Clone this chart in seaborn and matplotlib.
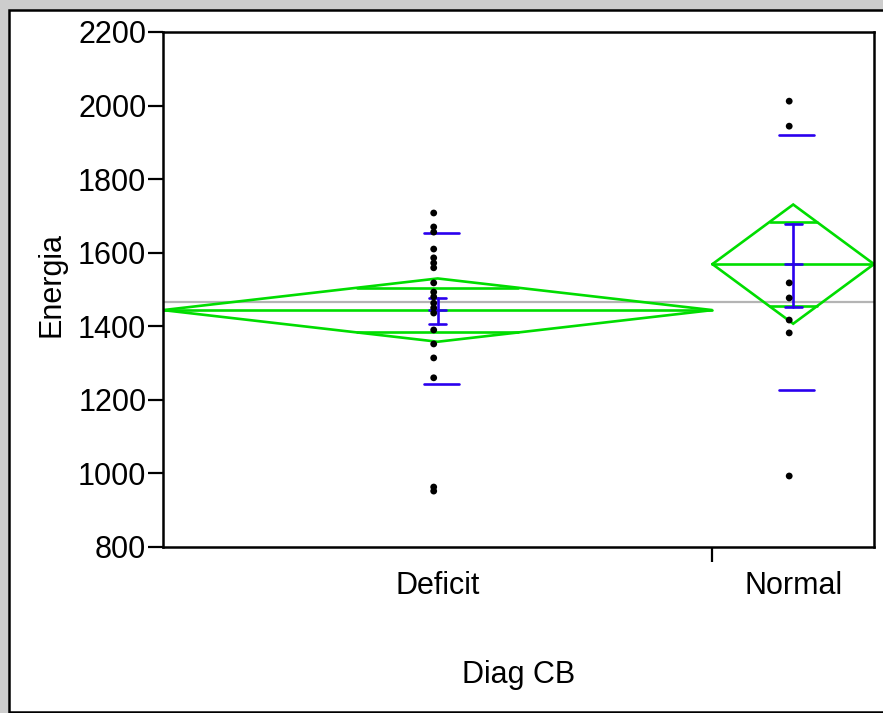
import numpy as np
import pandas as pd
import matplotlib
matplotlib.use("Agg")
import matplotlib.pyplot as plt
from matplotlib.patches import Rectangle
import seaborn as sns

# ---------------- data ----------------
groups = ["Deficit", "Normal"]
group_n = [34, 10]                      # relative group widths on the x axis
deficit_vals = [1708, 1670, 1656, 1610, 1586, 1572, 1559, 1518, 1493, 1480,
                1463, 1450, 1436, 1390, 1352, 1314, 1260, 963, 952]
normal_vals = [2012, 1944, 1518, 1477, 1417, 1382, 993]
group_means = [1444, 1569]
ci_half = [86, 162]                     # means-diamond half height
sd_low = [1243, 1227]
sd_high = [1654, 1920]
se_low = [1406, 1453]
se_high = [1477, 1677]
grand_mean = 1467
y_ticks = [800, 1000, 1200, 1400, 1600, 1800, 2000, 2200]

# ---------------- style ----------------
sns.set_theme(style="white")
plt.rcParams["font.family"] = ["Liberation Sans", "DejaVu Sans"]
plt.rcParams["text.color"] = "black"
plt.rcParams["axes.labelcolor"] = "black"
plt.rcParams["xtick.color"] = "black"
plt.rcParams["ytick.color"] = "black"
FS = 22
GREEN = "#00dd00"
BLUE = "#2a00ee"
GREY = "#b4b4b4"

W, H, DPI = 883, 713, 100
fig = plt.figure(figsize=(W / DPI, H / DPI), dpi=DPI)
fig.patch.set_facecolor("#cdcdcd")

bg = fig.add_axes([0, 0, 1, 1], zorder=-10)
bg.set_xlim(0, W)
bg.set_ylim(H, 0)
bg.axis("off")
bg.add_patch(Rectangle((9, 10), W, H - 11, facecolor="white", edgecolor="black",
                       linewidth=1.8))

ax = fig.add_axes([163 / W, 1 - 547 / H, (874 - 163) / W, (547 - 32) / H], zorder=1)
ax.set_facecolor("white")

# group extents along x
edges = np.concatenate([[0], np.cumsum(group_n)])
centers = (edges[:-1] + edges[1:]) / 2
total = edges[-1]
px = total / (874 - 163)                # data units per pixel

# points
rows = []
for g, c, vals in zip(groups, centers, [deficit_vals, normal_vals]):
    for v in vals:
        rows.append({"Diag CB": g, "Energia": v, "xpos": c - 4 * px})
df = pd.DataFrame(rows)

# grand mean line
ax.axhline(grand_mean, color=GREY, lw=1.6, zorder=1)

for i in range(len(groups)):
    x0, x1, c = edges[i], edges[i + 1], centers[i]
    m, h = group_means[i], ci_half[i]
    # diamond
    ax.plot([x0, c, x1, c, x0], [m, m + h, m, m - h, m], color=GREEN, lw=1.9, zorder=2,
            solid_joinstyle="miter")
    ax.plot([x0, x1], [m, m], color=GREEN, lw=1.9, zorder=2)
    # overlap marks
    oh = h / np.sqrt(2)
    half_w = (x1 - x0) / 2 * (1 - 1 / np.sqrt(2))
    for s in (1, -1):
        ax.plot([c - half_w, c + half_w], [m + s * oh, m + s * oh], color=GREEN, lw=1.9, zorder=2)
    # std dev lines
    for v in (sd_low[i], sd_high[i]):
        ax.plot([c - 14 * px, c + 21 * px], [v, v], color=BLUE, lw=1.9, zorder=3)
    # mean error bar
    cw = 8.5 * px
    ax.plot([c, c], [se_low[i], se_high[i]], color=BLUE, lw=1.9, zorder=3)
    for v in (se_low[i], se_high[i], m):
        ax.plot([c - cw, c + cw], [v, v], color=BLUE, lw=1.9, zorder=3)

sns.scatterplot(data=df, x="xpos", y="Energia", color="black", s=24,
                edgecolor="none", linewidth=0, zorder=5, ax=ax, legend=False)

ax.set_xlim(0, total)
ax.set_ylim(800, 2200)
ax.set_yticks(y_ticks)
ax.set_yticklabels([str(t) for t in y_ticks], fontsize=FS)
ax.tick_params(axis="y", direction="out", length=11, width=1.6, color="black", pad=1,
               left=True, labelcolor="black")

# x: boundary ticks (no label) and category labels at centres
ax.set_xticks(edges[1:-1])
ax.set_xticklabels([])
ax.set_xticks(centers, minor=True)
ax.set_xticklabels(groups, minor=True, fontsize=FS)
ax.tick_params(axis="x", which="major", direction="out", length=11, width=1.6,
               color="black", bottom=True)
ax.tick_params(axis="x", which="minor", length=0, pad=17, labelcolor="black")

for sp in ax.spines.values():
    sp.set_visible(True)
    sp.set_color("black")
    sp.set_linewidth(1.8)

ax.set_xlabel("Diag CB", fontsize=FS, color="black")
ax.xaxis.set_label_coords(0.5, -(660 - 547) / (547 - 32))
ax.set_ylabel("Energia", fontsize=FS, color="black")
ax.yaxis.set_label_coords(-(163 - 66) / (874 - 163), 0.51)

fig.savefig("out.png", dpi=DPI, facecolor=fig.get_facecolor())
